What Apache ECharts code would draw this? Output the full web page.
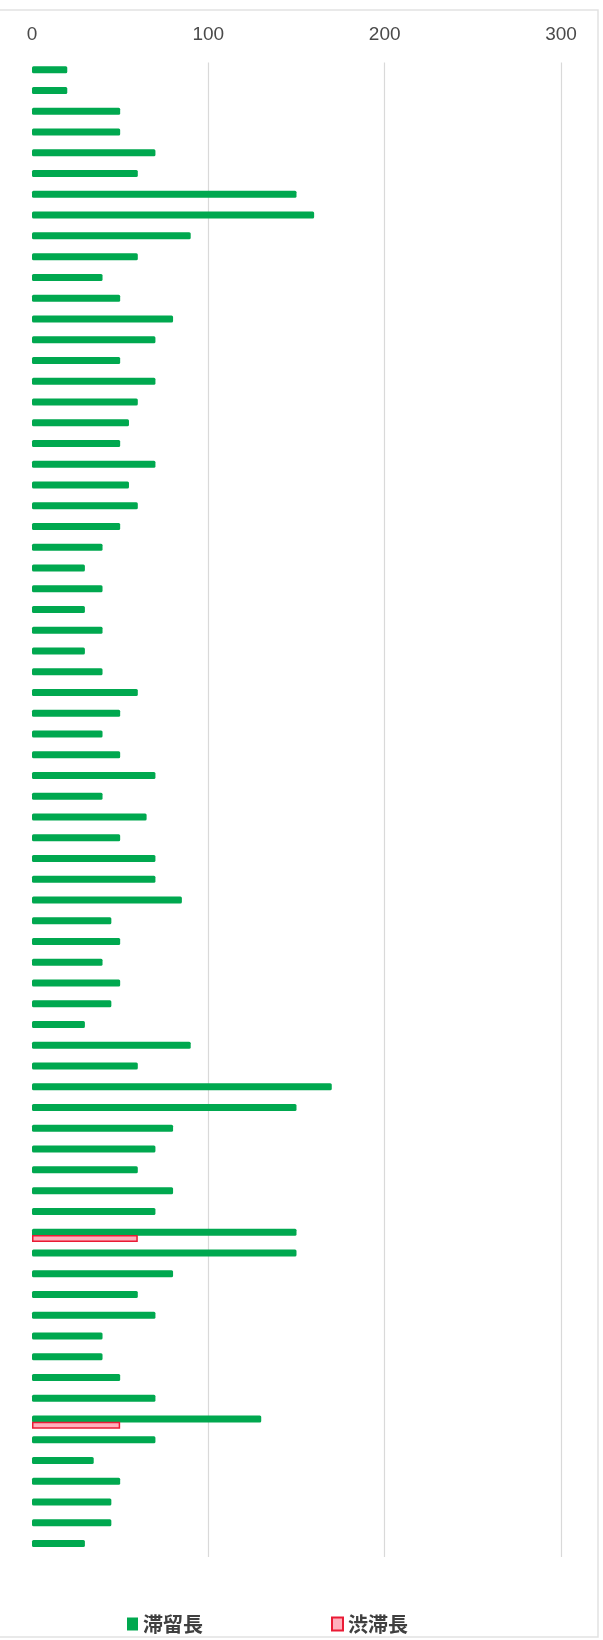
<!DOCTYPE html>
<html>
<head>
<meta charset="utf-8">
<script src="https://cdn.jsdelivr.net/npm/echarts@6/dist/echarts.min.js"></script>
<style>
html,body{margin:0;padding:0;background:#fff;}
#chart{width:603px;height:1640px;}
</style>
</head>
<body>
<div id="chart"></div>
<script>
// Categories: 72 rows, top to bottom
const categories = Array.from({length: 72}, (_, i) => String(i + 1));
// 滞留長 (queue length)
const stayLength = [
  20, 20, 50, 50, 70, 60, 150, 160, 90, 60,
  40, 50, 80, 70, 50, 70, 60, 55, 50, 70,
  55, 60, 50, 40, 30, 40, 30, 40, 30, 40,
  60, 50, 40, 50, 70, 40, 65, 50, 70, 70,
  85, 45, 50, 40, 50, 45, 30, 90, 60, 170,
  150, 80, 70, 60, 80, 70, 150, 150, 80, 60,
  70, 40, 40, 50, 70, 130, 70, 35, 50, 45,
  45, 30
];
// 渋滞長 (congestion length); null where absent
const jamLength = [
  null, null, null, null, null, null, null, null, null, null,
  null, null, null, null, null, null, null, null, null, null,
  null, null, null, null, null, null, null, null, null, null,
  null, null, null, null, null, null, null, null, null, null,
  null, null, null, null, null, null, null, null, null, null,
  null, null, null, null, null, null, 60, null, null, null,
  null, null, null, null, null, 50, null, null, null, null,
  null, null
];
const xTicks = [0, 100, 200, 300];
const seriesNames = ['滞留長', '渋滞長'];

const chart = echarts.init(document.getElementById('chart'), null, {renderer: 'canvas'});
chart.setOption({
  animation: false,
  backgroundColor: '#ffffff',
  graphic: [{
    type: 'rect',
    shape: {x: -2, y: 10, width: 600, height: 1627},
    style: {fill: 'none', stroke: '#e2e2e2', lineWidth: 1.5},
    silent: true,
    z: -1
  }],
  grid: {left: 32, right: 42, top: 62.6, bottom: 83, containLabel: false},
  xAxis: {
    type: 'value',
    position: 'top',
    min: xTicks[0],
    max: xTicks[xTicks.length - 1],
    interval: xTicks[1] - xTicks[0],
    axisLine: {show: false},
    axisTick: {show: false},
    axisLabel: {
      margin: 18,
      fontSize: 19,
      color: '#4a4a4a',
      fontFamily: 'Liberation Sans, Arial, sans-serif'
    },
    splitLine: {show: true, showMinLine: false, lineStyle: {color: '#d9d9d9', width: 1.2}}
  },
  yAxis: {
    type: 'category',
    data: categories,
    inverse: true,
    axisLine: {show: false},
    axisTick: {show: false},
    axisLabel: {show: false},
    splitLine: {show: false}
  },
  legend: {
    data: seriesNames,
    left: 122,
    top: 1609,
    itemWidth: 11,
    itemHeight: 13,
    itemGap: 128,
    icon: 'rect',
    textStyle: {
      fontSize: 20,
      fontWeight: 'bold',
      color: '#404040',
      fontFamily: 'Noto Sans CJK JP'
    }
  },
  series: [
    {
      name: seriesNames[0],
      type: 'bar',
      data: stayLength,
      barWidth: 7,
      barGap: '-10%',
      itemStyle: {color: '#00a84f', borderRadius: 1.5}
    },
    {
      name: seriesNames[1],
      type: 'bar',
      data: jamLength,
      barWidth: 7,
      barGap: '-10%',
      itemStyle: {color: '#ffb0bd', borderColor: '#ea1b35', borderWidth: 1.5}
    }
  ]
});
</script>
</body>
</html>
